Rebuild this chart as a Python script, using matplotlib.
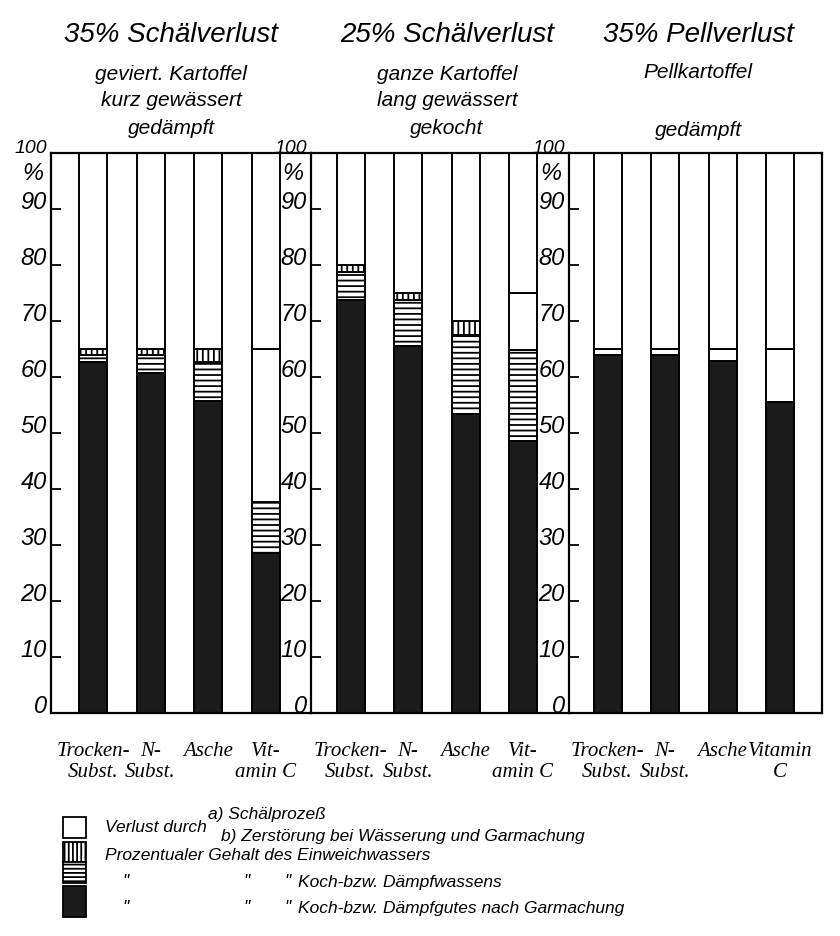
import matplotlib
matplotlib.use('Agg')
import matplotlib.pyplot as plt
from matplotlib.patches import Rectangle
import numpy as np

plt.rcParams['hatch.linewidth'] = 1.3
plt.rcParams['font.family'] = ['Liberation Sans', 'DejaVu Sans']

# ---------------- data ----------------
panel_titles = ["35% Schälverlust", "25% Schälverlust", "35% Pellverlust"]
panel_subtitles = [["geviert. Kartoffel", "kurz gewässert", "gedämpft"],
                   ["ganze Kartoffel", "lang gewässert", "gekocht"],
                   ["Pellkartoffel", "", "gedämpft"]]
cat_line1 = [["Trocken-", "N-", "Asche", "Vit-"],
             ["Trocken-", "N-", "Asche", "Vit-"],
             ["Trocken-", "N-", "Asche", "Vitamin"]]
cat_line2 = [["Subst.", "Subst.", "", "amin C"],
             ["Subst.", "Subst.", "", "amin C"],
             ["Subst.", "Subst.", "", "C"]]

# segment sizes in %, bottom to top; remainder up to 100 = Schäl-/Pellverlust
kochgut = [[62.7, 60.7, 55.8, 28.6],
           [73.8, 65.5, 53.4, 48.6],
           [64.0, 64.0, 62.9, 55.6]]
kochwasser = [[1.2, 3.3, 6.9, 9.1],
              [5.0, 8.3, 14.1, 16.2],
              [0.0, 0.0, 0.0, 0.0]]
einweichwasser = [[1.1, 1.0, 2.3, 0.0],
                  [1.2, 1.2, 2.5, 0.0],
                  [0.0, 0.0, 0.0, 0.0]]
zerstoerung = [[0.0, 0.0, 0.0, 27.3],
               [0.0, 0.0, 0.0, 10.2],
               [1.0, 1.0, 2.1, 9.4]]

yticks = list(range(0, 101, 10))

legend_texts = ["Verlust durch", "a) Schälprozeß",
                "b) Zerstörung bei Wässerung und Garmachung",
                "Prozentualer Gehalt des Einweichwassers",
                "Koch-bzw. Dämpfwassens",
                "Koch-bzw. Dämpfgutes nach Garmachung"]

# ---------------- figure ----------------
W, H = 840, 936
fig = plt.figure(figsize=(W / 100, H / 100), dpi=100)
fig.patch.set_facecolor('white')

# overlay axes in pixel coordinates for free text / legend
ov = fig.add_axes([0, 0, 1, 1])
ov.set_xlim(0, W)
ov.set_ylim(H, 0)
ov.axis('off')

DARK = '#1b1b1b'
EDGE = 'black'
LW = 1.4

panel_left = [51, 311, 569]
panel_width = [260, 258, 253]
first_off = [42, 39.5, 38.5]
spacing = 57.5
y0_px, y100_px = 713, 153

title_font = dict(family=['Liberation Sans', 'DejaVu Sans'], style='italic')
tick_font = dict(family=['Liberation Sans', 'DejaVu Sans'], style='italic')
cat_font = dict(family=['Liberation Serif', 'DejaVu Serif'], style='italic')

title_cx = [171, 447, 698]
sub_y = [75, 101, 128]

for p in range(3):
    l, w, off = panel_left[p], panel_width[p], first_off[p]
    ax = fig.add_axes([l / W, (H - y0_px) / H, w / W, (y0_px - y100_px) / H])
    ax.patch.set_alpha(0)
    ax.set_xlim(-off / spacing, (w - off) / spacing)
    ax.set_ylim(0, 100)
    x = np.arange(4)
    bw = 28 / spacing

    kg = np.array(kochgut[p])
    kw = np.array(kochwasser[p])
    ew = np.array(einweichwasser[p])
    zs = np.array(zerstoerung[p])
    peel = 100 - (kg + kw + ew + zs)

    segs = [(kg, dict(color=DARK)),
            (kw, dict(color='white', hatch='---')),
            (ew, dict(color='white', hatch='|||')),
            (zs, dict(color='white')),
            (peel, dict(color='white'))]
    bottom = np.zeros(4)
    for vals, st in segs:
        m = vals > 0
        if m.any():
            ax.bar(x[m], vals[m], bw, bottom=bottom[m], color=st['color'],
                   hatch=st.get('hatch'), edgecolor=EDGE, linewidth=LW)
        bottom = bottom + vals

    for s in ['left', 'top', 'bottom', 'right']:
        ax.spines[s].set_linewidth(1.6)
    if p < 2:
        ax.spines['right'].set_visible(False)

    ax.set_yticks(yticks)
    ax.set_yticklabels([str(v) for v in yticks], fontsize=17, **tick_font)
    ax.tick_params(axis='y', direction='in', length=7, width=1.3, pad=3)
    for t in ax.get_yticklabels():
        t.set_va('baseline')
        if t.get_text() == '100':
            t.set_fontsize(14)
    ax.set_xticks(x)
    ax.set_xticklabels(cat_line1[p], fontsize=15, **cat_font)
    ax.tick_params(axis='x', length=0, pad=21)
    for i, s in enumerate(cat_line2[p]):
        if s:
            ax.annotate(s, xy=(x[i], 0), xycoords=('data', 'axes fraction'),
                        xytext=(0, -36), textcoords='offset points',
                        ha='center', va='top', fontsize=15, **cat_font)

    # % sign under 100
    ov.text(l - 18, 173, "%", fontsize=17, ha='center', va='center', **tick_font)

    # titles
    ov.text(title_cx[p], 35, panel_titles[p], fontsize=20, ha='center', va='center',
            **title_font)
    for k, s in enumerate(panel_subtitles[p]):
        if s:
            yy = sub_y[k]
            if p == 2 and k == 0:
                yy = 72
            if p == 2 and k == 2:
                yy = 130
            ov.text(title_cx[p], yy, s, fontsize=15, ha='center', va='center',
                    **title_font)

# ---------------- legend ----------------
lf = dict(fontsize=12.5, va='center', **title_font)
ov.add_patch(Rectangle((63, 817), 23, 21, facecolor='white', edgecolor='black', lw=1.3))
ov.add_patch(Rectangle((63, 842), 23, 20, facecolor='white', edgecolor='black', lw=1.3,
                       hatch='||||'))
ov.add_patch(Rectangle((63, 862), 23, 21, facecolor='white', edgecolor='black', lw=1.3,
                       hatch='----'))
ov.add_patch(Rectangle((63, 886), 23, 31, facecolor=DARK, edgecolor='black', lw=1.3))

ov.text(105, 828, legend_texts[0], **lf)
ov.text(208, 815, legend_texts[1], **lf)
ov.text(221, 836, legend_texts[2], **lf)
ov.text(105, 856, legend_texts[3], **lf)
for yy, txt in [(882, legend_texts[4]), (908, legend_texts[5])]:
    ov.text(122, yy, '"', **lf)
    ov.text(243, yy, '"', **lf)
    ov.text(284, yy, '"', **lf)
    ov.text(298, yy, txt, **lf)

fig.savefig('out.png', dpi=100, facecolor='white')
